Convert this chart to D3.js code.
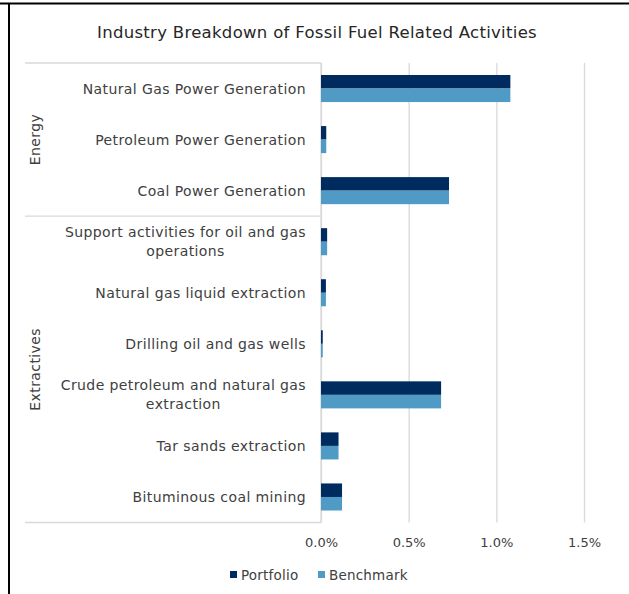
<!DOCTYPE html>
<html><head><meta charset="utf-8">
<script src="https://cdn.jsdelivr.net/npm/d3@7"></script>
<style>
html,body{margin:0;padding:0;background:#fff;}
svg{display:block;font-family:"DejaVu Sans",sans-serif;}
</style></head>
<body>
<svg id="c" width="629" height="594"></svg>
<script>
const title = "Industry Breakdown of Fossil Fuel Related Activities";
const groups = ["Energy","Extractives"];
const categories = [
  ["Natural Gas Power Generation"],
  ["Petroleum Power Generation"],
  ["Coal Power Generation"],
  ["Support activities for oil and gas","operations"],
  ["Natural gas liquid extraction"],
  ["Drilling oil and gas wells"],
  ["Crude petroleum and natural gas","extraction"],
  ["Tar sands extraction"],
  ["Bituminous coal mining"]
];
const categoryGroup = [0,0,0,1,1,1,1,1,1];
const portfolio = [1.08,0.03,0.73,0.035,0.028,0.01,0.685,0.10,0.12];
const benchmark = [1.08,0.03,0.73,0.035,0.028,0.01,0.685,0.10,0.12];
const seriesNames = ["Portfolio","Benchmark"];
const seriesColors = ["#002B5E","#4F9BC5"];
const xTicks = [0,0.5,1.0,1.5];

const svg = d3.select("#c");
const font = "DejaVu Sans";
const labelSize = 14;
const ls = 0.4;
const textColor = "#404040";

// frame lines
svg.append("rect").attr("x",0).attr("y",2.5).attr("width",629).attr("height",2).attr("fill","#000");
svg.append("rect").attr("x",8).attr("y",3).attr("width",2).attr("height",591).attr("fill","#000");

const plotTop = 63, plotBottom = 522.5;
const x = d3.scaleLinear().domain([0,1.5]).range([321,584]);
const y = d3.scaleBand().domain(d3.range(categories.length)).range([plotTop,plotBottom]).paddingInner(0.47).paddingOuter(0.235);

// title
svg.append("text").attr("x",317).attr("y",38).attr("text-anchor","middle")
  .attr("font-size",16.5).attr("letter-spacing",0.3).attr("fill","#262626").text(title);

// gridlines + tick labels
const gx = svg.append("g").attr("transform",`translate(0,${plotBottom})`)
  .call(d3.axisBottom(x).tickValues(xTicks).tickSize(-(plotBottom-plotTop)).tickFormat(d=>d.toFixed(1)+"%").tickPadding(14));
gx.select(".domain").remove();
gx.selectAll(".tick line").attr("stroke","#d9d9d9").attr("stroke-width",1.3);
gx.selectAll(".tick text").attr("font-size",13).attr("font-family",font).attr("fill",textColor).attr("dy","0.8em");

// table lines for category labels
const bandStart = i => plotTop + (plotBottom-plotTop)*i/categories.length;
const lineColor = "#d9d9d9";
const bounds = [0];
groups.forEach((g,gi)=>{ bounds.push(d3.max(categoryGroup.map((v,i)=>v===gi?i+1:0))); });
bounds.forEach(b=>{
  svg.append("line").attr("x1",25).attr("x2",321).attr("y1",bandStart(b)).attr("y2",bandStart(b))
    .attr("stroke",lineColor).attr("stroke-width",1.3);
});
// axis line
svg.append("line").attr("x1",321).attr("x2",321).attr("y1",plotTop).attr("y2",plotBottom).attr("stroke",lineColor).attr("stroke-width",1.3);

// group labels
groups.forEach((g,gi)=>{
  const c = (bandStart(bounds[gi])+bandStart(bounds[gi+1]))/2;
  svg.append("text").attr("transform",`translate(40,${c}) rotate(-90)`).attr("text-anchor","middle")
    .attr("font-size",labelSize).attr("letter-spacing",ls).attr("fill",textColor).text(g);
});

// category labels
categories.forEach((lines,i)=>{
  const cy = y(i)+y.bandwidth()/2;
  const t = svg.append("text").attr("font-size",labelSize).attr("letter-spacing",ls).attr("fill",textColor).attr("text-anchor","middle");
  const n = lines.length;
  const spans = lines.map((l,k)=> t.append("tspan").attr("y",cy + (k-(n-1)/2)*19).attr("dy","0.36em").text(l));
  const w = d3.max(spans.map(s=>s.node().getComputedTextLength()));
  spans.forEach(s=>s.attr("x",306 - w/2));
});

// bars
const half = y.bandwidth()/2;
[portfolio,benchmark].forEach((vals,si)=>{
  svg.append("g").selectAll("rect").data(vals).join("rect")
    .attr("x",x(0)).attr("y",(d,i)=>y(i)+si*half).attr("width",d=>x(d)-x(0)).attr("height",half)
    .attr("fill",seriesColors[si]);
});

// legend
const leg = svg.append("g");
const legX = [230,318];
seriesNames.forEach((s,si)=>{
  leg.append("rect").attr("x",legX[si]).attr("y",571).attr("width",7).attr("height",7).attr("fill",seriesColors[si]);
  leg.append("text").attr("x",legX[si]+11).attr("y",575).attr("dy","0.36em").attr("font-size",13.5).attr("letter-spacing",0.2).attr("fill",textColor).text(s);
});
</script>
</body></html>
